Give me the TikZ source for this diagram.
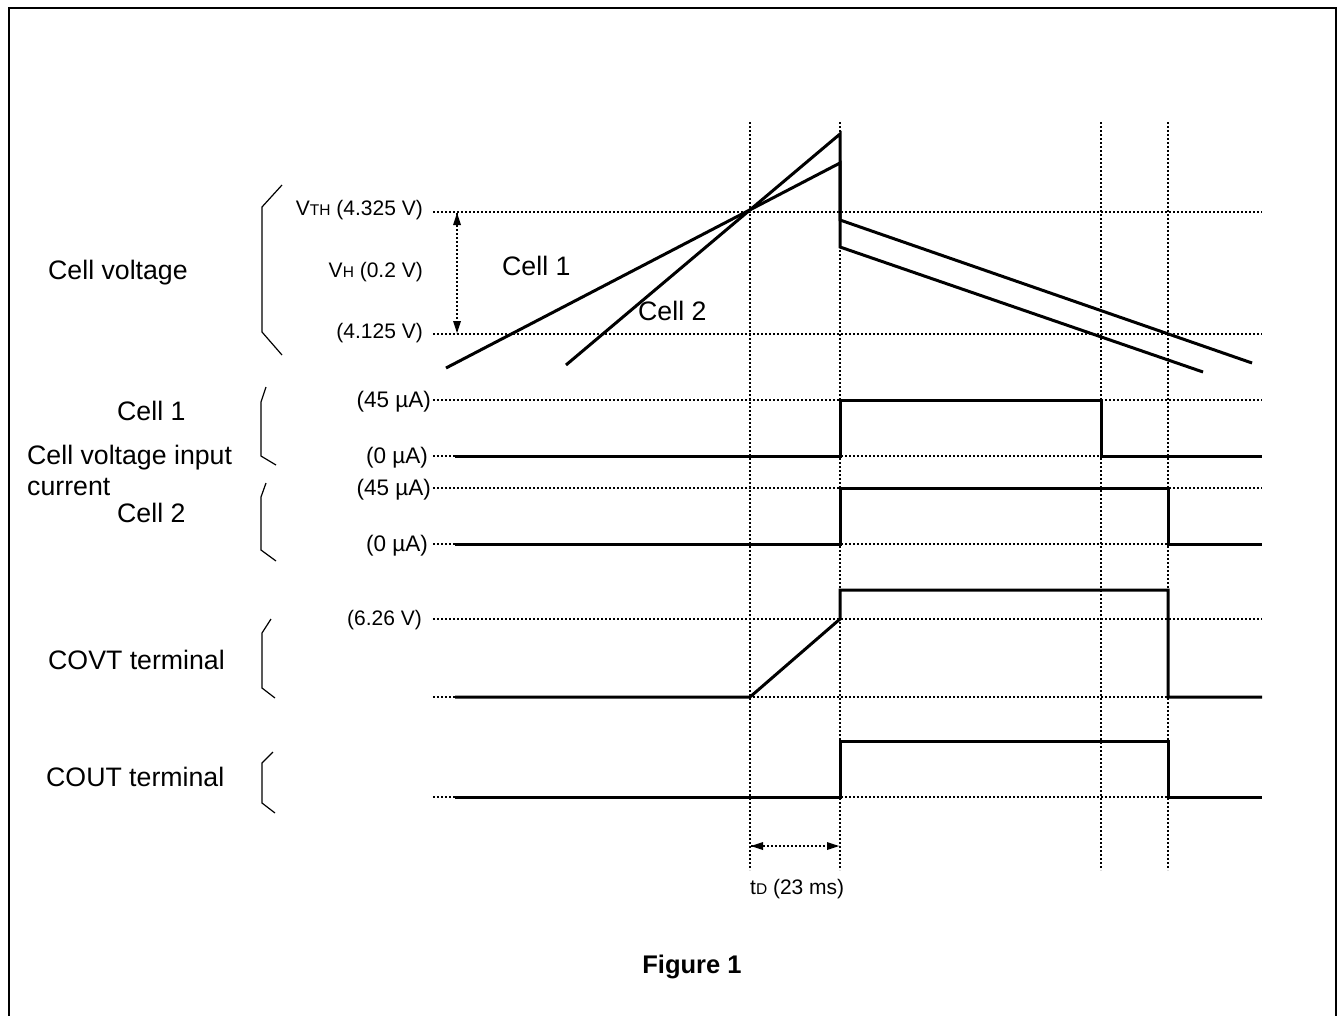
\documentclass[tikz,border=0pt]{standalone}
\usepackage{fontspec}
\setmainfont{Liberation Sans}
\usetikzlibrary{arrows.meta}
\begin{document}
\begin{tikzpicture}[x=1pt,y=-1pt,
  sig/.style={line width=3pt, line join=miter},
  gridline/.style={line width=1.3pt, dash pattern=on 1.6pt off 2.4pt},
  brk/.style={line width=1.2pt},
  big/.style={font=\fontsize{26.7}{30}\selectfont, inner sep=0pt},
  lab/.style={font=\fontsize{21}{24}\selectfont, inner sep=0pt},
  ulab/.style={font=\fontsize{22.5}{25}\selectfont, inner sep=0pt},
  tip/.style={fill=black},
  frame/.style={line width=2.5pt}
]
\useasboundingbox (0,0) rectangle (1338,1015);
% frame
\coordinate (fbl) at (9,1020);
\coordinate (ftl) at (9,8);
\coordinate (ftr) at (1336,8);
\coordinate (fbr) at (1336,1020);
\draw[frame] (fbl) -- (ftl) -- (ftr) -- (fbr);

% vertical dotted time markers
\foreach \n/\x in {ta/750,tb/840,tc/1101,td/1168}{
  \coordinate (\n top) at (\x,122);
  \coordinate (\n bot) at (\x,870);
  \draw[gridline] (\n top) -- (\n bot);
}
% horizontal dotted levels
\foreach \n/\y in {vth/212,vlo/334,ia/400,iaz/456,ib/488,ibz/544,cv/619,cvz/697,coz/797}{
  \coordinate (\n L) at (433,\y);
  \coordinate (\n R) at (1262,\y);
  \draw[gridline] (\n L) -- (\n R);
}

% cell voltage waveforms
\coordinate (c1s) at (446,368);
\coordinate (c1p) at (840,163);
\coordinate (c1d) at (840,220);
\coordinate (c1e) at (1252,363);
\coordinate (c2s) at (566,365);
\coordinate (c2p) at (840,134);
\coordinate (c2d) at (840,247);
\coordinate (c2e) at (1203,372);
\draw[sig] (c1s) -- (c1p) -- (c1d) -- (c1e);
\draw[sig] (c2s) -- (c2p) -- (c2d) -- (c2e);

% cell 1 current
\coordinate (a0) at (455,456); \coordinate (a1) at (840,456); \coordinate (a2) at (840,400);
\coordinate (a3) at (1101,400); \coordinate (a4) at (1101,456); \coordinate (a5) at (1262,456);
\draw[sig] (a0) -- (a1) -- (a2) -- (a3) -- (a4) -- (a5);
% cell 2 current
\coordinate (b0) at (455,544); \coordinate (b1) at (840,544); \coordinate (b2) at (840,488);
\coordinate (b3) at (1168,488); \coordinate (b4) at (1168,544); \coordinate (b5) at (1262,544);
\draw[sig] (b0) -- (b1) -- (b2) -- (b3) -- (b4) -- (b5);
% COVT
\coordinate (v0) at (455,697); \coordinate (v1) at (750,697); \coordinate (v2) at (840,619);
\coordinate (v3) at (840,590); \coordinate (v4) at (1168,590); \coordinate (v5) at (1168,697);
\coordinate (v6) at (1262,697);
\draw[sig] (v0) -- (v1) -- (v2) -- (v3) -- (v4) -- (v5) -- (v6);
% COUT
\coordinate (o0) at (455,797); \coordinate (o1) at (840,797); \coordinate (o2) at (840,741);
\coordinate (o3) at (1168,741); \coordinate (o4) at (1168,797); \coordinate (o5) at (1262,797);
\draw[sig] (o0) -- (o1) -- (o2) -- (o3) -- (o4) -- (o5);

% brackets
\coordinate (k1a) at (282,185); \coordinate (k1b) at (262,207); \coordinate (k1c) at (262,332); \coordinate (k1d) at (282,355);
\draw[brk] (k1a) -- (k1b) -- (k1c) -- (k1d);
\coordinate (k2a) at (266,387); \coordinate (k2b) at (261,402); \coordinate (k2c) at (261,456); \coordinate (k2d) at (276,465);
\draw[brk] (k2a) -- (k2b) -- (k2c) -- (k2d);
\coordinate (k3a) at (266,483); \coordinate (k3b) at (261,497); \coordinate (k3c) at (261,550); \coordinate (k3d) at (276,561);
\draw[brk] (k3a) -- (k3b) -- (k3c) -- (k3d);
\coordinate (k4a) at (271,619); \coordinate (k4b) at (262,633); \coordinate (k4c) at (262,688); \coordinate (k4d) at (275,698);
\draw[brk] (k4a) -- (k4b) -- (k4c) -- (k4d);
\coordinate (k5a) at (273,752); \coordinate (k5b) at (262,763); \coordinate (k5c) at (262,803); \coordinate (k5d) at (275,813);
\draw[brk] (k5a) -- (k5b) -- (k5c) -- (k5d);

% dimension arrows (dotted shaft, solid heads)
\coordinate (vhT) at (457,213); \coordinate (vhB) at (457,333);
\draw[gridline] (vhT) -- (vhB);
\fill[tip] (vhT) -- ++(-4,12) -- ++(8,0) -- cycle;
\fill[tip] (vhB) -- ++(-4,-12) -- ++(8,0) -- cycle;
\coordinate (tdL) at (751,846); \coordinate (tdR) at (839,846);
\draw[gridline] (tdL) -- (tdR);
\fill[tip] (tdL) -- ++(12,-4) -- ++(0,8) -- cycle;
\fill[tip] (tdR) -- ++(-12,-4) -- ++(0,8) -- cycle;

% labels
\node[big, anchor=base west] (lcv) at (48,279) {Cell voltage};
\node[lab, anchor=base east] (lvth) at (423,215) {V{\fontsize{15.5}{16}\selectfont TH} (4.325 V)};
\node[lab, anchor=base east] (lvh) at (423,277) {V{\fontsize{15.5}{16}\selectfont H} (0.2 V)};
\node[lab, anchor=base east] (lvl) at (423,338) {(4.125 V)};
\node[big, anchor=base west] (lc1p) at (502,275) {Cell 1};
\node[big, anchor=base west] (lc2p) at (638,320) {Cell 2};
\node[ulab, anchor=base east] (lia) at (431,407) {(45 µA)};
\node[ulab, anchor=base east] (liaz) at (428,463) {(0 µA)};
\node[ulab, anchor=base east] (lib) at (431,495) {(45 µA)};
\node[ulab, anchor=base east] (libz) at (428,551) {(0 µA)};
\node[lab, anchor=base east] (lcv626) at (422,625) {(6.26 V)};
\node[big, anchor=base west] (lc1) at (117,420) {Cell 1};
\node[big, anchor=base west] (lcvi) at (27,464) {Cell voltage input};
\node[big, anchor=base west] (lcur) at (27,495) {current};
\node[big, anchor=base west] (lc2) at (117,522) {Cell 2};
\node[big, anchor=base west] (lcovt) at (48,669) {COVT terminal};
\node[big, anchor=base west] (lcout) at (46,786) {COUT terminal};
\node[lab, anchor=base west] (ltd) at (750,894) {t{\fontsize{15.5}{16}\selectfont D} (23 ms)};
\node[inner sep=0pt, anchor=base, font=\fontsize{25.5}{28}\selectfont\bfseries] (lfig) at (692,973) {Figure 1};
\end{tikzpicture}
\end{document}
